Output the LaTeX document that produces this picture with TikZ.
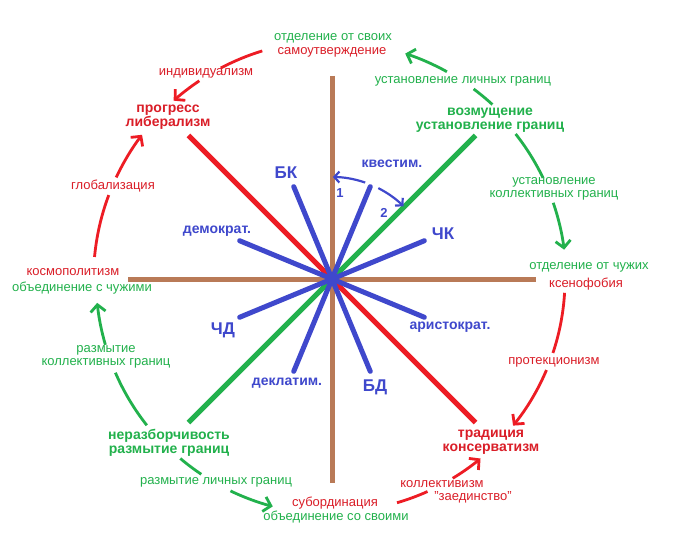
\documentclass[tikz,border=0pt]{standalone}
\usepackage{fontspec}
\setmainfont{Liberation Sans}
\usetikzlibrary{arrows.meta,calc}
\definecolor{pred}{RGB}{237,28,36}
\definecolor{tred}{RGB}{218,30,40}
\definecolor{pgreen}{RGB}{34,177,76}
\definecolor{pblue}{RGB}{63,72,204}
\definecolor{pbrown}{RGB}{185,122,87}
\begin{document}
\begin{tikzpicture}[x=1pt,y=1pt,
  small/.style={inner sep=1pt, font=\fontsize{13}{12.5}\selectfont, align=center},
  big/.style={inner sep=1pt, font=\fontsize{14}{14}\selectfont\bfseries, align=center},
  bluebig/.style={inner sep=1pt, text=pblue, font=\fontsize{17}{17}\selectfont\bfseries},
  bluemid/.style={inner sep=1pt, text=pblue, font=\fontsize{14}{14}\selectfont\bfseries},
  bluenum/.style={inner sep=1pt, text=pblue, font=\fontsize{13}{13}\selectfont\bfseries},
  axisline/.style={draw=pbrown, line width=5pt},
  redline/.style={draw=pred, line width=5pt},
  greenline/.style={draw=pgreen, line width=5pt},
  blueline/.style={draw=pblue, line width=5pt, line cap=round},
  ring/.style={line width=2.8pt},
  ringtip/.style={ring, -{Straight Barb[length=7pt,width=15pt]}},
  smallarr/.style={draw=pblue, line width=2.2pt, -{Straight Barb[length=5pt,width=11pt]}}
]
\fill[white] (0,0) rectangle (680,-548);
\useasboundingbox (0,0) rectangle (680,-548);

\coordinate (O) at (332,-279);

% axes
\draw[axisline] ($(O)+(-204,0)$) -- ($(O)+(204,0)$);
\draw[axisline] ($(O)+(0,203)$) -- ($(O)+(0,-204)$);
% diagonals
\draw[redline] ($(O)+(135:203pt)$) -- ($(O)+(-45:203pt)$);
\draw[greenline] ($(O)+(45:203pt)$) -- ($(O)+(225:203pt)$);
% blue star
\foreach \a in {22.5,67.5,112.5,157.5}
  \draw[blueline] ($(O)+(\a:100pt)$) -- ($(O)+(\a+180:100pt)$);

% small blue arrows
\draw[smallarr] ($(O)+(71:102pt)$) arc[start angle=71, end angle=89.5, radius=102pt];
\draw[smallarr] ($(O)+(63:102pt)$) arc[start angle=63, end angle=45.5, radius=102pt];

% ring arrows
\draw[ring, draw=pgreen] ($(O)+(47.4:237pt)$) arc[start angle=47.4, end angle=53.3, radius=237pt];
\draw[ringtip, draw=pgreen] ($(O)+(61:237pt)$) arc[start angle=61, end angle=72, radius=237pt];

\draw[ring, draw=pred] ($(O)+(107:238.5pt)$) arc[start angle=107, end angle=117.8, radius=238.5pt];
\draw[ringtip, draw=pred] ($(O)+(123.8:238.5pt)$) arc[start angle=123.8, end angle=131.6, radius=238.5pt];

\draw[ring, draw=pred] ($(O)+(174.7:238.5pt)$) arc[start angle=174.7, end angle=159.4, radius=238.5pt];
\draw[ringtip, draw=pred] ($(O)+(154.8:238.5pt)$) arc[start angle=154.8, end angle=142.8, radius=238.5pt];

\draw[ring, draw=pgreen] ($(O)+(218.3:236pt)$) arc[start angle=218.3, end angle=203.4, radius=236pt];
\draw[ringtip, draw=pgreen] ($(O)+(196.2:236pt)$) arc[start angle=196.2, end angle=185.8, radius=236pt];

\draw[ring, draw=pgreen] ($(O)+(229.8:235pt)$) arc[start angle=229.8, end angle=236.2, radius=235pt];
\draw[ringtip, draw=pgreen] ($(O)+(244.4:235pt)$) arc[start angle=244.4, end angle=255.4, radius=235pt];

\draw[ring, draw=pred] ($(O)+(286.2:233pt)$) arc[start angle=286.2, end angle=294.2, radius=233pt];
\draw[ringtip, draw=pred] ($(O)+(301.2:233pt)$) arc[start angle=301.2, end angle=309.6, radius=233pt];

\draw[ring, draw=pred] ($(O)+(356.6:233pt)$) arc[start angle=356.6, end angle=341.5, radius=233pt];
\draw[ringtip, draw=pred] ($(O)+(337:233pt)$) arc[start angle=337, end angle=321, radius=233pt];

\draw[ring, draw=pgreen] ($(O)+(38.3:234pt)$) arc[start angle=38.3, end angle=25.6, radius=234pt];
\draw[ringtip, draw=pgreen] ($(O)+(19:234pt)$) arc[start angle=19, end angle=7.2, radius=234pt];

% small labels
\node[small, text=pgreen] (tsv) at (333,-38) {отделение от своих};
\node[small, text=tred] (tsa) at (332,-52) {самоутверждение};
\node[small, text=tred] (ind) at (206,-73) {индивидуализм};
\node[small, text=pgreen] (ustl) at (463,-81) {установление личных границ};
\node[small, text=pgreen] (ustk) at (554,-189) {установление\\коллективных границ};
\node[small, text=pgreen] (otch) at (589,-267) {отделение от чужих};
\node[small, text=tred] (ksen) at (586,-284) {ксенофобия};
\node[small, text=tred] (prot) at (554,-362) {протекционизм};
\node[small, text=tred] (koll) at (442,-484) {коллективизм};
\node[small, text=tred] (zaed) at (473,-497) {"заединство"};
\node[small, text=tred] (subo) at (335,-503) {субординация};
\node[small, text=pgreen] (obsv) at (336,-517) {объединение со своими};
\node[small, text=pgreen] (razl) at (216,-482) {размытие личных границ};
\node[small, text=pgreen] (razk) at (106,-357) {размытие\\коллективных границ};
\node[small, text=tred] (kosm) at (73,-272) {космополитизм};
\node[small, text=pgreen] (obch) at (82,-288) {объединение с чужими};
\node[small, text=tred] (glob) at (113,-186) {глобализация};

% bold labels
\node[big, text=tred] (prog) at (168,-117) {прогресс\\либерализм};
\node[big, text=pgreen] (vozm) at (490,-120) {возмущение\\установление границ};
\node[big, text=pgreen] (neraz) at (169,-443) {неразборчивость\\размытие границ};
\node[big, text=tred] (trad) at (491,-442) {традиция\\консерватизм};

% blue labels
\node[bluebig] (bk) at (286,-173) {БК};
\node[bluebig] (chk) at (443,-234) {ЧК};
\node[bluebig] (chd) at (223,-330) {ЧД};
\node[bluebig] (bd) at (375,-387) {БД};
\node[bluemid] (kvest) at (392,-164) {квестим.};
\node[bluemid] (demo) at (217,-231) {демократ.};
\node[bluemid] (arist) at (450,-327) {аристократ.};
\node[bluemid] (dekl) at (287,-383) {деклатим.};
\node[bluenum] (n1) at (340,-193) {1};
\node[bluenum] (n2) at (384,-213) {2};
\end{tikzpicture}
\end{document}
